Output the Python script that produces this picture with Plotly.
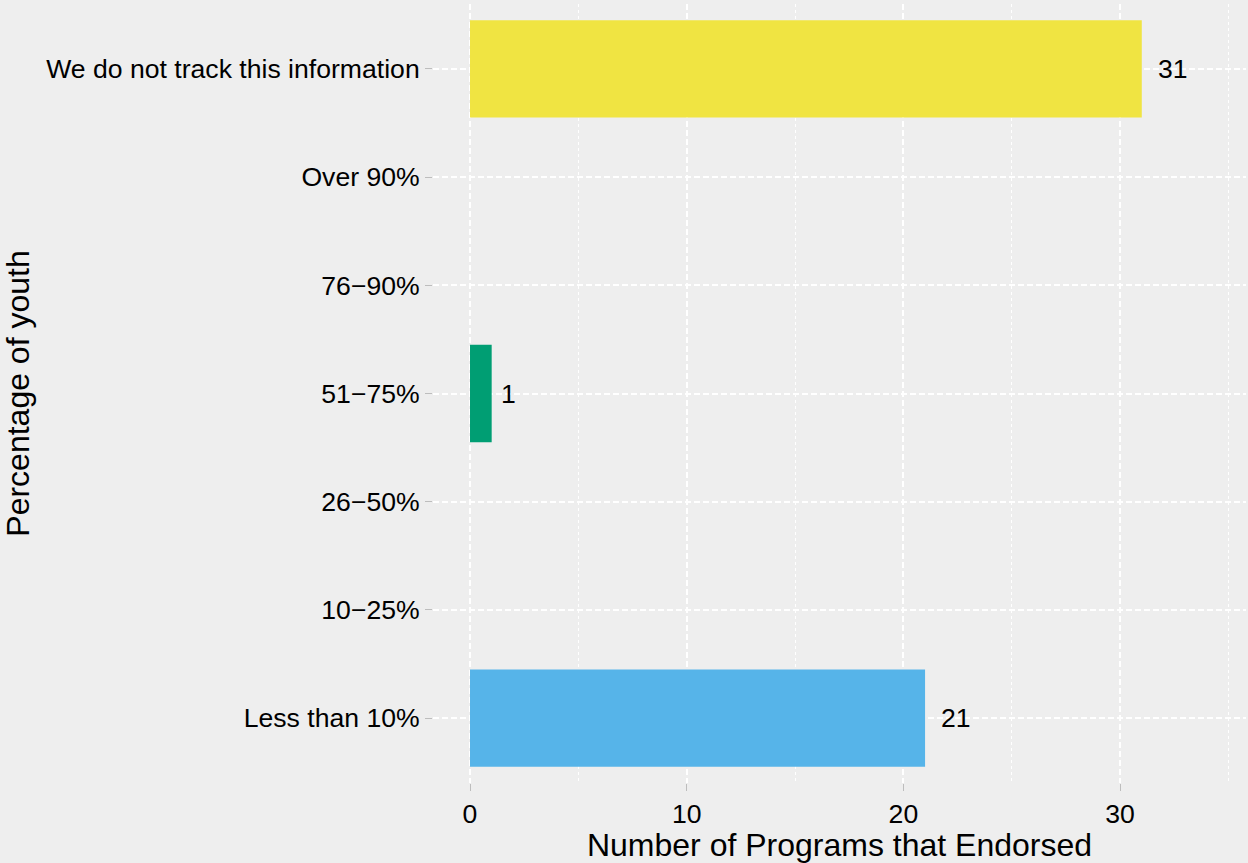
import plotly.graph_objects as go

# Share of youth served, by bracket (bottom to top on the chart)
categories = [
    "Less than 10%",
    "10\u221225%",
    "26\u221250%",
    "51\u221275%",
    "76\u221290%",
    "Over 90%",
    "We do not track this information",
]
counts = [21, 0, 0, 1, 0, 0, 31]
bar_colors = ["#56B4E9", "#E69F00", "#CC79A7", "#009E73", "#0072B2", "#D55E00", "#F0E442"]

x_title = "Number of Programs that Endorsed"
y_title = "Percentage of youth"

FONT = "Liberation Sans, Arial, Helvetica, sans-serif"
BG = "#EEEEEE"
TICK_SIZE = 26.6

fig = go.Figure()
fig.add_trace(
    go.Bar(
        x=counts,
        y=categories,
        orientation="h",
        marker=dict(color=bar_colors, line=dict(width=0)),
        width=0.9,
        hoverinfo="x+y",
        showlegend=False,
    )
)

# value labels just past the end of each non-empty bar
for cat, val in zip(categories, counts):
    if val > 0:
        label = str(val)
        fig.add_annotation(
            x=val,
            y=cat,
            text=label,
            showarrow=False,
            xanchor="left",
            yanchor="middle",
            xshift=7 * len(label),
            font=dict(family=FONT, size=TICK_SIZE, color="black"),
        )

grid_dash = "6px,3px"

fig.update_layout(
    width=1248,
    height=863,
    margin=dict(l=433, r=2, t=4, b=80),
    paper_bgcolor=BG,
    plot_bgcolor=BG,
    font=dict(family=FONT, size=TICK_SIZE, color="black"),
    bargap=0.1,
)

fig.update_xaxes(
    range=[-1.708, 35.81],
    tickvals=[0, 10, 20, 30],
    ticks="outside",
    ticklen=7,
    tickwidth=1,
    tickcolor="#BDBDBD",
    showgrid=True,
    gridcolor="white",
    gridwidth=1.5,
    griddash=grid_dash,
    minor=dict(
        tickvals=[5, 15, 25, 35],
        showgrid=True,
        gridcolor="white",
        gridwidth=1,
        griddash="dot",
        ticks="",
    ),
    zeroline=False,
    showline=False,
    tickfont=dict(size=TICK_SIZE, color="black"),
    title=dict(text=x_title, font=dict(size=32, color="black"), standoff=4),
    automargin=False,
    fixedrange=True,
)

fig.update_yaxes(
    categoryorder="array",
    categoryarray=categories,
    range=[-0.6, 6.6],
    ticks="outside",
    ticklen=7,
    tickwidth=1,
    tickcolor="#BDBDBD",
    showgrid=True,
    gridcolor="white",
    gridwidth=1.5,
    griddash=grid_dash,
    zeroline=False,
    showline=False,
    tickfont=dict(size=TICK_SIZE, color="black"),
    title=dict(text=y_title, font=dict(size=32, color="black"), standoff=13),
    automargin=False,
    fixedrange=True,
)

fig.write_html("out.html")
